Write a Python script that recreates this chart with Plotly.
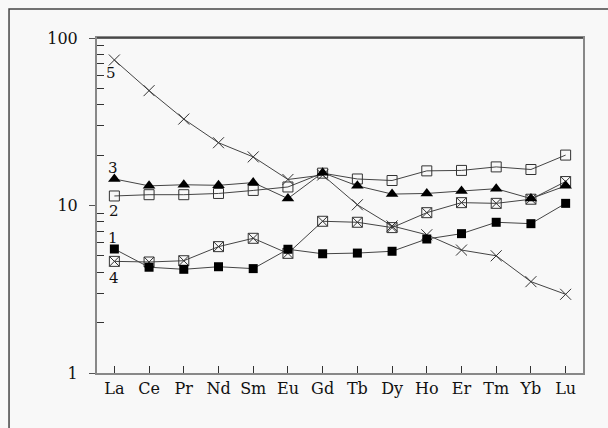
import plotly.graph_objects as go
import math

elements = ["La", "Ce", "Pr", "Nd", "Sm", "Eu", "Gd", "Tb", "Dy", "Ho", "Er", "Tm", "Yb", "Lu"]

s1 = [5.5, 4.28, 4.16, 4.31, 4.2, 5.48, 5.15, 5.2, 5.33, 6.31, 6.79, 7.94, 7.79, 10.3]
s2 = [11.4, 11.6, 11.6, 11.8, 12.3, 12.9, 15.6, 14.4, 14.1, 16.1, 16.2, 17.0, 16.4, 20.0]
s3 = [14.4, 13.1, 13.3, 13.2, 13.7, 11.0, 15.7, 13.1, 11.7, 11.8, 12.2, 12.6, 11.0, 13.1]
s4 = [4.64, 4.6, 4.68, 5.68, 6.37, 5.18, 8.05, 7.94, 7.38, 9.06, 10.4, 10.3, 10.9, 13.9]
s5 = [73.9, 48.5, 32.8, 23.7, 19.5, 14.3, 15.2, 10.1, 7.55, 6.69, 5.42, 5.01, 3.51, 2.95]

series_labels = ["1", "2", "3", "4", "5"]
y_ticks = [1, 10, 100]

xs = list(range(len(elements)))
fig = go.Figure()

line_style = dict(color="#444444", width=1)
specs = [
    (s5, dict(symbol="x-thin-open", size=11, color="#333333", line=dict(width=1, color="#333333"))),
    (s2, dict(symbol="square-open", size=10, color="#333333", line=dict(width=1))),
    (s4, dict(symbol="square-x-open", size=10, color="#333333", line=dict(width=1))),
    (s3, dict(symbol="triangle-up", size=11, color="#000000")),
    (s1, dict(symbol="square", size=9, color="#000000")),
]
for vals, mk in specs:
    fig.add_trace(go.Scatter(x=xs, y=vals, mode="lines+markers", line=line_style,
                             marker=mk, showlegend=False, hoverinfo="skip"))

font = dict(family="DejaVu Serif", size=16, color="#111111")

# series labels near La
label_pos = [
    ("5", s5[0], -3, -13),
    ("3", s3[0], -1, 11),
    ("2", s2[0], 0, -15),
    ("1", s1[0], -1, 11),
    ("4", s4[0], 0, -17),
]
for txt, v, dx, dy in label_pos:
    fig.add_annotation(x=0, y=math.log10(v), xref="x", yref="y", text=txt,
                       showarrow=False, xshift=dx, yshift=dy,
                       font=dict(family="DejaVu Serif", size=15, color="#111111"))

# outer frame
fig.add_shape(type="rect", xref="paper", yref="paper",
              x0=-0.181, y0=-0.3, x1=1.2, y1=1.0866,
              line=dict(color="#444444", width=1.5), layer="below")
# top border darker
fig.add_shape(type="line", xref="paper", yref="paper", x0=0, x1=1, y0=1, y1=1,
              line=dict(color="#333333", width=1.5))

fig.update_xaxes(
    tickmode="array", tickvals=xs, ticktext=elements, range=[-0.5, 13.5],
    showgrid=False, zeroline=False, showline=True, linecolor="#888888", linewidth=2,
    mirror=True, ticks="inside", ticklen=7, tickcolor="#333333", tickwidth=1,
    tickfont=font,
)
fig.update_yaxes(
    type="log", range=[0, 2], tickmode="array", tickvals=y_ticks,
    ticktext=[str(t) for t in y_ticks],
    showgrid=False, zeroline=False, showline=True, linecolor="#888888", linewidth=2,
    mirror=True, ticks="outside", ticklen=6, tickcolor="#555555", tickwidth=1,
    ticklabelstandoff=8,
    tickfont=font,
    minor=dict(tickvals=[2, 3, 4, 5, 6, 7, 8, 9, 20, 30, 40, 50, 60, 70, 80, 90],
               ticks="inside", ticklen=7, tickcolor="#333333", tickwidth=1, showgrid=False),
)

fig.update_layout(
    width=608, height=428,
    margin=dict(l=97, r=25, t=38, b=55),
    paper_bgcolor="#f8f8f8", plot_bgcolor="#f8f8f8",
)

fig.write_html("out.html")
